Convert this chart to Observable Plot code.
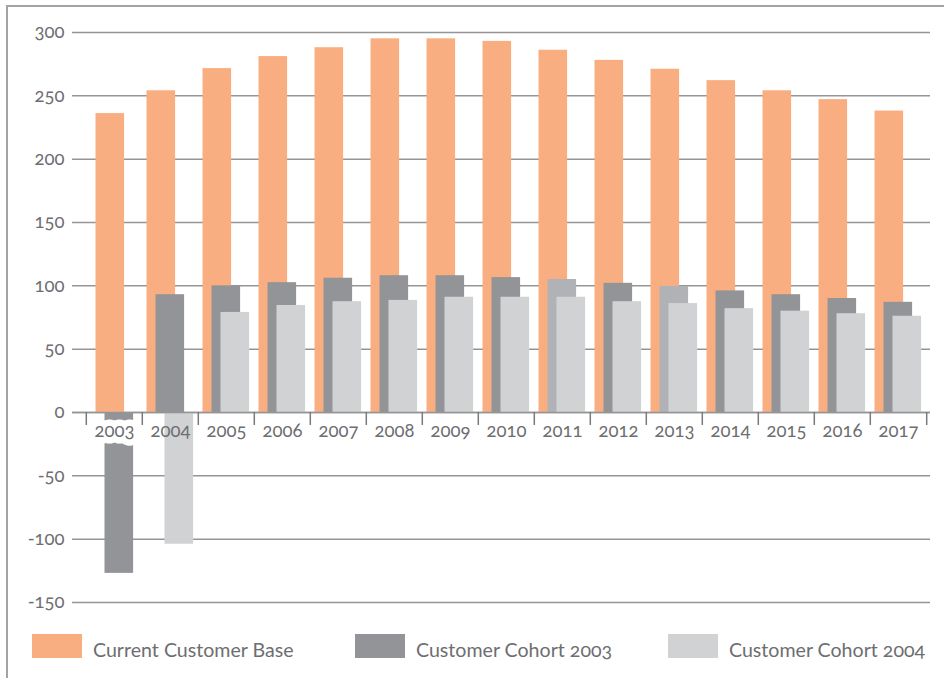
<!DOCTYPE html>
<html>
<head>
<meta charset="utf-8">
<script src="https://cdn.jsdelivr.net/npm/d3@7"></script>
<script src="https://cdn.jsdelivr.net/npm/@observablehq/plot@0.6"></script>
<style>
  html, body { margin: 0; padding: 0; background: #fff; }
  #wrap { position: relative; width: 944px; height: 678px; overflow: hidden; font-family: Lato, "Open Sans", sans-serif; font-feature-settings: "onum" 1; font-variant-numeric: oldstyle-nums; }
  #frame { position: absolute; left: 6px; top: 5px; width: 950px; height: 700px; border-left: 2px solid #a3a3a3; border-top: 2px solid #a3a3a3; }
  #chart { position: absolute; left: 0; top: 0; }
  #chart svg text { font-family: Lato, "Open Sans", sans-serif; font-feature-settings: "onum" 1; font-variant-numeric: oldstyle-nums; }
  .leg { position: absolute; top: 634px; height: 25px; }
  .sw { position: absolute; top: 0; width: 50px; height: 24px; }
  .lt { position: absolute; top: 4px; white-space: nowrap; font-size: 19.6px; color: #6d6e71; line-height: 24px; }
</style>
</head>
<body>
<div id="wrap">
  <div id="frame"></div>
  <div id="chart"></div>
  <div id="legend"></div>
</div>
<script>
const years = [2003, 2004, 2005, 2006, 2007, 2008, 2009, 2010, 2011, 2012, 2013, 2014, 2015, 2016, 2017];
const customerBase = [236, 254, 271.5, 281, 288, 295, 295, 293, 286, 278, 271, 262, 254, 247, 238];
const cohort2003 = [-127, 93, 100, 102.5, 106, 108, 108, 106.5, 105, 102, 99.5, 96, 93, 90, 87];
const cohort2004 = [null, -104, 79, 84.5, 87.5, 88.5, 91, 91, 91, 87.5, 86, 82, 80, 78, 76];
const yTicks = [-150, -100, -50, 0, 50, 100, 150, 200, 250, 300];
const seriesNames = ["Current Customer Base", "Customer Cohort 2003", "Customer Cohort 2004"];

const colors = {orange: "#f9ae81", dark: "#939497", medium: "#b1b2b5", light: "#d1d2d4"};
const textColor = "#6d6e71";
const gridColor = "#959595";

const base = years.map((year, i) => ({year, value: customerBase[i]}));
const c03 = years.map((year, i) => ({year, value: cohort2003[i]}));
const c04 = years.map((year, i) => ({year, value: cohort2004[i]})).filter(d => d.value != null);

const lastYear = years[years.length - 1];
const first = years[0];
const half = (929 - 83) / years.length / 2;

const chart = Plot.plot({
  width: 944,
  height: 620,
  marginLeft: 83,
  marginRight: 15,
  marginTop: 32,
  marginBottom: 18,
  x: {type: "band", domain: years, padding: 0, axis: null},
  y: {domain: [-150, 300], axis: null},
  marks: [
    Plot.ruleY(yTicks, {y: d => d, stroke: gridColor, strokeWidth: 1.5, insetLeft: -11, insetRight: -1}),
    // 2003 cluster (two bars)
    Plot.barY(base.filter(d => d.year === first), {x: "year", y: "value", fill: colors.orange, insetLeft: 9.5, insetRight: 17.9}),
    Plot.barY(c03.filter(d => d.year === first), {x: "year", y: "value", fill: colors.dark, insetLeft: 18.5, insetRight: 8.9}),
    // remaining clusters (three bars)
    Plot.barY(base.filter(d => d.year !== first), {x: "year", y: "value", fill: colors.orange, insetLeft: 4.5, insetRight: 22.9}),
    Plot.barY(c03.filter(d => d.year !== first), {x: "year", y: "value", fill: d => (d.year === 2011 || d.year === 2013) ? colors.medium : colors.dark, insetLeft: 13.5, insetRight: 13.9}),
    Plot.barY(c04, {x: "year", y: "value", fill: colors.light, insetLeft: 22.5, insetRight: 4.9}),
    Plot.ruleY([0], {y: d => d, stroke: gridColor, strokeWidth: 1.5, insetLeft: -11, insetRight: -1}),
    Plot.ruleX(years, {x: d => d, y1: 0, y2: 0, dx: -half, insetBottom: -13, stroke: "#7a7a7a", strokeWidth: 1.5}),
    Plot.ruleX([lastYear], {x: d => d, y1: 0, y2: 0, dx: half, insetBottom: -13, stroke: "#7a7a7a", strokeWidth: 1.5}),
    // first year label carries a white backing (as in the source artwork)
    Plot.text(years.filter(d => d === first), {x: d => d, y: 0, dy: 19, text: d => String(d), fontSize: 18.5, fill: textColor, stroke: "white", strokeWidth: 13, paintOrder: "stroke"}),
    Plot.text(years.filter(d => d !== first), {x: d => d, y: 0, dy: 19, text: d => String(d), fontSize: 18.5, fill: textColor}),
    Plot.text(yTicks, {frameAnchor: "left", y: d => d, dx: -19, text: d => String(d), textAnchor: "end", fontSize: 18.5, fill: textColor})
  ]
});
document.getElementById("chart").appendChild(chart);

const legendSpec = [
  {name: seriesNames[0], color: colors.orange, x: 32},
  {name: seriesNames[1], color: colors.dark, x: 355},
  {name: seriesNames[2], color: colors.light, x: 668}
];
const legend = document.getElementById("legend");
for (const s of legendSpec) {
  const g = document.createElement("div");
  g.className = "leg";
  g.style.left = s.x + "px";
  const sw = document.createElement("div");
  sw.className = "sw";
  sw.style.background = s.color;
  const t = document.createElement("div");
  t.className = "lt";
  t.style.left = "61px";
  t.textContent = s.name;
  g.appendChild(sw);
  g.appendChild(t);
  legend.appendChild(g);
}
</script>
</body>
</html>
